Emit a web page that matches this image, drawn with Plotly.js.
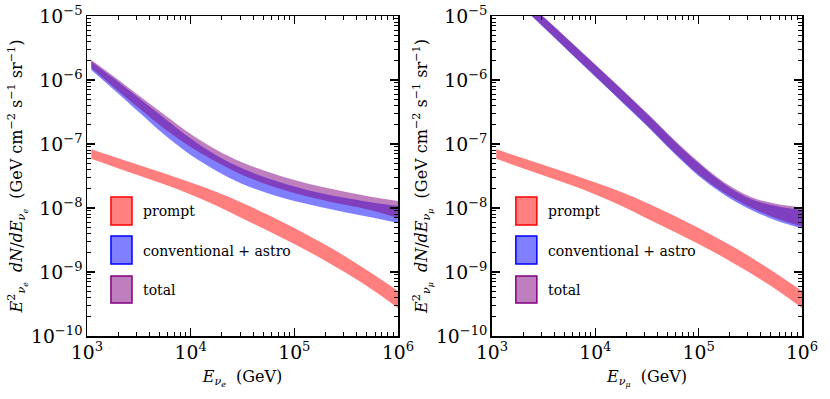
<!DOCTYPE html>
<html>
<head>
<meta charset="utf-8">
<script src="https://cdn.plot.ly/plotly-3.0.1.min.js"></script>
<style>
  body { margin: 0; background: #fff; }
  #graph { width: 830px; height: 399px; }
</style>
</head>
<body>
<div id="graph"></div>
<script>
const energy = [1100, 1780, 3160, 5620, 1e4, 1.78e4, 3.16e4, 5.62e4, 1e5, 1.78e5, 3.16e5, 5.62e5, 1e6];

// ---- nu_e panel ----
const promptUpE = [8.26e-8, 6.38e-8, 4.70e-8, 3.46e-8, 2.50e-8, 1.78e-8, 1.20e-8, 7.77e-9, 4.87e-9, 2.94e-9, 1.72e-9, 9.47e-10, 5.05e-10];
const promptLoE = [5.87e-8, 4.45e-8, 3.22e-8, 2.33e-8, 1.63e-8, 1.08e-8, 6.85e-9, 4.37e-9, 2.74e-9, 1.66e-9, 9.65e-10, 5.33e-10, 2.74e-10];
const convUpE = [1.95e-6, 1.08e-6, 5.23e-7, 2.50e-7, 1.22e-7, 6.61e-8, 4.14e-8, 2.89e-8, 2.17e-8, 1.72e-8, 1.43e-8, 1.22e-8, 1.08e-8];
const convLoE = [1.43e-6, 7.23e-7, 3.16e-7, 1.38e-7, 6.73e-8, 3.79e-8, 2.37e-8, 1.69e-8, 1.29e-8, 1.04e-8, 8.51e-9, 7.11e-9, 5.83e-9];
const totalUpE = [2.05e-6, 1.16e-6, 5.72e-7, 2.84e-7, 1.43e-7, 8.06e-8, 5.14e-8, 3.65e-8, 2.74e-8, 2.17e-8, 1.78e-8, 1.49e-8, 1.29e-8];
const totalLoE = [1.54e-6, 7.92e-7, 3.65e-7, 1.72e-7, 8.98e-8, 5.23e-8, 3.28e-8, 2.29e-8, 1.72e-8, 1.36e-8, 1.11e-8, 9.14e-9, 6.98e-9];

// ---- nu_mu panel ----
const promptUpMu = [8.26e-8, 6.38e-8, 4.70e-8, 3.46e-8, 2.50e-8, 1.78e-8, 1.20e-8, 7.77e-9, 4.87e-9, 2.94e-9, 1.72e-9, 9.47e-10, 5.05e-10];
const promptLoMu = [5.87e-8, 4.45e-8, 3.22e-8, 2.33e-8, 1.63e-8, 1.08e-8, 6.85e-9, 4.37e-9, 2.74e-9, 1.66e-9, 9.65e-10, 5.33e-10, 2.74e-10];
const convUpMu = [4.48e-5, 2.21e-5, 9.54e-6, 4.07e-6, 1.72e-6, 7.18e-7, 2.96e-7, 1.18e-7, 4.99e-8, 2.36e-8, 1.40e-8, 1.07e-8, 9.31e-9];
const convLoMu = [3.37e-5, 1.60e-5, 6.59e-6, 2.72e-6, 1.12e-6, 4.61e-7, 1.91e-7, 7.50e-8, 3.16e-8, 1.60e-8, 9.50e-9, 6.38e-9, 4.78e-9];
const totalUpMu = [4.56e-5, 2.25e-5, 9.72e-6, 4.14e-6, 1.75e-6, 7.37e-7, 3.05e-7, 1.22e-7, 5.23e-8, 2.50e-8, 1.50e-8, 1.16e-8, 1.02e-8];
const totalLoMu = [3.43e-5, 1.63e-5, 6.71e-6, 2.77e-6, 1.14e-6, 4.73e-7, 1.97e-7, 7.77e-8, 3.34e-8, 1.72e-8, 1.03e-8, 6.91e-9, 5.14e-9];

const legendNames = ["prompt", "conventional + astro", "total"];
const fillColors = ["rgba(255,0,0,0.5)", "rgba(0,0,255,0.5)", "rgba(128,0,128,0.5)"];
const edgeColors = ["red", "blue", "purple"];

const serif = "DejaVu Serif";

// a band = invisible lower edge + upper edge filled down to it
function band(lo, up, color, xa, ya) {
    const common = {
        x: energy, type: "scatter", mode: "lines",
        xaxis: xa, yaxis: ya, showlegend: false, hoverinfo: "skip",
        line: { width: 0, shape: "spline", smoothing: 1, color: color }
    };
    return [
        Object.assign({}, common, { y: lo }),
        Object.assign({}, common, { y: up, fill: "tonexty", fillcolor: color })
    ];
}

let data = [];
// blue first, purple on top of it gives the dark overlap
data = data.concat(band(convLoE, convUpE, fillColors[1], "x", "y"));
data = data.concat(band(totalLoE, totalUpE, fillColors[2], "x", "y"));
data = data.concat(band(promptLoE, promptUpE, fillColors[0], "x", "y"));
data = data.concat(band(convLoMu, convUpMu, fillColors[1], "x2", "y2"));
data = data.concat(band(totalLoMu, totalUpMu, fillColors[2], "x2", "y2"));
data = data.concat(band(promptLoMu, promptUpMu, fillColors[0], "x2", "y2"));

function axisBase() {
    return {
        type: "log", showgrid: false, zeroline: false,
        showline: true, linecolor: "black", linewidth: 1.5, mirror: "allticks",
        ticks: "inside", ticklen: 8, tickwidth: 1.3, tickcolor: "black",
        dtick: 1, exponentformat: "power",
        minor: { ticks: "inside", ticklen: 4, tickwidth: 1, tickcolor: "black", dtick: "D1", showgrid: false },
        tickfont: { family: serif, size: 15, color: "black" }
    };
}
function xAxis(domain, anchor, title) {
    return Object.assign(axisBase(), {
        range: [3, 6], domain: domain, anchor: anchor,
        title: { text: title, font: { family: serif, size: 16, color: "black" }, standoff: 8 }
    });
}
function yAxis(anchor, title) {
    return Object.assign(axisBase(), {
        range: [-10, -5], domain: [0, 1], anchor: anchor,
        title: { text: title, font: { family: serif, size: 16, color: "black" }, standoff: 4 }
    });
}

// hand made legend boxes, one set in each panel
const shapes = [];
const annotations = [];
const boxY = [[0.347, 0.434], [0.225, 0.3125], [0.103, 0.1875]];
const textY = [0.39, 0.2666, 0.1437];
["x", "x2"].forEach((xa) => {
    const ya = xa === "x" ? "y" : "y2";
    for (let i = 0; i < 3; i++) {
        shapes.push({
            type: "rect", xref: xa + " domain", yref: ya + " domain",
            x0: 0.077, x1: 0.1447, y0: boxY[i][0], y1: boxY[i][1],
            fillcolor: fillColors[i], line: { color: edgeColors[i], width: 1.5 }
        });
        annotations.push({
            xref: xa + " domain", yref: ya + " domain", x: 0.175, y: textY[i],
            xanchor: "left", yanchor: "middle", showarrow: false,
            text: legendNames[i], font: { family: serif, size: 14, color: "black" }
        });
    }
});

const unit = "  (GeV cm<sup>−2</sup> s<sup>−1</sup> sr<sup>−1</sup>)";

const layout = {
    width: 830, height: 399,
    margin: { l: 87, r: 28, t: 16, b: 63 },
    paper_bgcolor: "white", plot_bgcolor: "white",
    showlegend: false,
    font: { family: serif, color: "black" },
    xaxis: xAxis([0, 0.435], "y", "<i>E</i><sub><i>ν<sub>e</sub></i></sub>  (GeV)"),
    yaxis: yAxis("x", "<i>E</i><sup>2</sup><sub><i>ν<sub>e</sub></i></sub>  <i>dN</i>/<i>dE</i><sub><i>ν<sub>e</sub></i></sub>" + unit),
    xaxis2: xAxis([0.5664, 1], "y2", "<i>E</i><sub><i>ν<sub>μ</sub></i></sub>  (GeV)"),
    yaxis2: yAxis("x2", "<i>E</i><sup>2</sup><sub><i>ν<sub>μ</sub></i></sub>  <i>dN</i>/<i>dE</i><sub><i>ν<sub>μ</sub></i></sub>" + unit),
    shapes: shapes,
    annotations: annotations
};

Plotly.newPlot("graph", data, layout, { staticPlot: true });
</script>
</body>
</html>
